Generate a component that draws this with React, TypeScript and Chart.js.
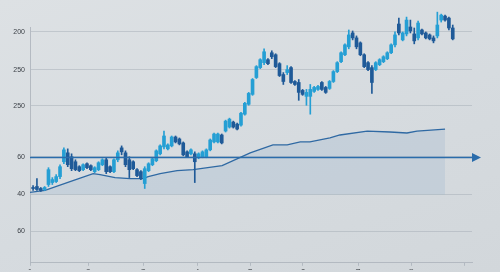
import React, { useEffect, useRef } from "react";
import { Chart, registerables } from "chart.js";

Chart.register(...registerables);

// Candles (price units of the chart's own scale)
const candleOpen = [
  76, 77, 75, 74, 79, 81, 82, 87, 102, 111, 107, 102, 97, 94, 100, 98, 92, 94, 99, 104,
  97, 92, 104, 116, 111, 104, 102, 94, 92, 80, 93, 99, 103, 110, 117, 115, 118, 127, 125, 121,
  112, 110, 110, 106, 107, 107, 114, 122, 122, 129, 133, 137, 142, 140, 139, 150, 160, 170, 187, 197,
  202, 205, 212, 210, 201, 190, 192, 197, 183, 182, 174, 168, 168, 173, 175, 182, 177, 176, 183, 193,
  203, 210, 218, 232, 227, 222, 210, 202, 197, 195, 200, 203, 206, 212, 220, 241, 225, 231, 238, 231,
  227, 235, 232, 230, 227, 229, 245, 249, 247, 237,
];
const candleClose = [
  75, 74, 73, 76, 94, 84, 87, 97, 114, 99, 95, 94, 93, 99, 96, 94, 96, 101, 104, 92,
  92, 104, 111, 112, 99, 94, 95, 88, 85, 95, 100, 105, 113, 118, 128, 119, 127, 122, 120, 109,
  107, 114, 102, 110, 112, 114, 124, 130, 130, 121, 143, 145, 137, 135, 151, 161, 171, 185, 198, 205,
  213, 201, 208, 198, 189, 183, 195, 182, 180, 172, 170, 172, 175, 177, 178, 175, 172, 183, 193, 202,
  212, 220, 230, 227, 218, 210, 198, 195, 182, 202, 205, 208, 212, 220, 230, 232, 232, 245, 234, 224,
  242, 231, 227, 226, 224, 240, 250, 245, 237, 226,
];
const candleHigh = [
  78, 85, 76, 77, 96, 86, 89, 99, 116, 115, 110, 104, 98, 100, 101, 99, 97, 102, 105, 106,
  98, 105, 113, 118, 113, 107, 103, 95, 93, 97, 101, 106, 114, 119, 133, 120, 128, 128, 126, 122,
  113, 115, 112, 111, 113, 115, 125, 131, 131, 130, 144, 146, 143, 141, 152, 162, 172, 186, 199, 206,
  216, 206, 214, 211, 202, 192, 199, 198, 184, 185, 175, 175, 180, 178, 179, 183, 178, 184, 194, 203,
  213, 221, 235, 234, 229, 223, 211, 203, 199, 203, 206, 209, 213, 221, 233, 247, 233, 248, 245, 237,
  244, 236, 233, 231, 229, 253, 251, 250, 248, 240,
];
const candleLow = [
  73, 73, 72, 73, 77, 79, 81, 85, 100, 97, 93, 93, 92, 93, 95, 93, 91, 93, 98, 90,
  91, 91, 102, 109, 97, 86, 94, 87, 84, 75, 92, 98, 102, 109, 115, 114, 117, 121, 119, 108,
  106, 109, 81, 105, 106, 106, 113, 121, 121, 120, 132, 136, 136, 134, 138, 149, 159, 169, 186, 196,
  200, 200, 206, 197, 188, 180, 190, 181, 179, 164, 169, 159, 150, 172, 174, 174, 171, 175, 182, 192,
  202, 209, 216, 225, 216, 209, 197, 194, 171, 194, 199, 202, 205, 211, 218, 230, 224, 229, 232, 221,
  225, 230, 226, 225, 222, 227, 243, 244, 235, 225,
];

// Moving-average line: positions in candle index, values in price units
const maIndex = [-0.8, 3.1, 9.6, 15.6, 17.4, 21.3, 25.2, 28.6, 29.9, 33, 37.4, 41.6, 49.1, 56.4, 62.3, 66, 69.4, 71.9, 77.1, 79.7, 86.8, 92.7, 97.1, 99.7, 107];
const maValue = [71, 73, 82, 90, 89, 86, 85, 85, 87, 90, 93, 94, 98, 111, 119, 119, 122, 122, 126, 129, 133, 132, 131, 133, 135];
const maFloor = 69;

// Horizontal reference arrow level
const arrowLevel = 107;

// Axis ticks
const yTickValues = [32, 69, 107, 158.5, 195, 233];
const yTickLabels = ["60", "40", "60", "250", "250", "200"];
const xTickValues = [-0.8, 14.3, 28.6, 42.6, 56.4, 70.1, 84.4, 98.2, 112];
const xTickLabels = ["1", "2", "3", "4", "5", "6", "7", "8", ""];

const UP = "#259fd4";
const DOWN = "#1f5a98";

const arrowPlugin = {
  id: "arrowLine",
  afterDatasetsDraw(chart: any) {
    const { ctx, chartArea, scales } = chart;
    const py = Math.round(scales.y.getPixelForValue(arrowLevel)) + 0.5;
    ctx.save();
    ctx.strokeStyle = "#2a6cab";
    ctx.fillStyle = "#2a6cab";
    ctx.lineWidth = 1.4;
    ctx.beginPath();
    ctx.moveTo(chartArea.left, py);
    ctx.lineTo(chartArea.right + 2, py);
    ctx.stroke();
    ctx.beginPath();
    ctx.moveTo(chartArea.right, py - 4.5);
    ctx.lineTo(chartArea.right + 9, py);
    ctx.lineTo(chartArea.right, py + 4.5);
    ctx.closePath();
    ctx.fill();
    ctx.restore();
  },
};

export default function App() {
  const ref = useRef<HTMLCanvasElement | null>(null);

  useEffect(() => {
    if (!ref.current) return;
    const n = candleOpen.length;
    const idx = Array.from({ length: n }, (_, i) => i);
    const colors = idx.map((i) => (candleClose[i] >= candleOpen[i] ? UP : DOWN));

    const chart = new Chart(ref.current, {
      type: "bar",
      data: {
        datasets: [
          {
            type: "bar",
            data: idx.map((i) => ({ x: i, y: [candleLow[i], candleHigh[i]] })) as any,
            backgroundColor: colors,
            borderWidth: 0,
            barThickness: 1,
            grouped: false,
            clip: false as any,
            order: 2,
          },
          {
            type: "bar",
            data: idx.map((i) => ({
              x: i,
              y: [Math.min(candleOpen[i], candleClose[i]), Math.max(candleOpen[i], candleClose[i])],
            })) as any,
            backgroundColor: colors,
            borderWidth: 0,
            barThickness: 3,
            grouped: false,
            clip: false as any,
            order: 1,
          },
          {
            type: "line",
            data: maIndex.map((x, i) => ({ x, y: maValue[i] })) as any,
            borderColor: "#2f69a3",
            borderWidth: 1.3,
            pointRadius: 0,
            tension: 0,
            fill: { value: maFloor } as any,
            backgroundColor: "rgba(150,176,205,0.26)",
            order: 3,
          } as any,
        ],
      },
      options: {
        animation: false,
        responsive: false,
        maintainAspectRatio: false,
        layout: { padding: { top: 27, right: 28, left: 0, bottom: 0 } },
        plugins: { legend: { display: false }, tooltip: { enabled: false } },
        scales: {
          x: {
            type: "linear",
            offset: false,
            min: -0.8,
            max: 114,
            afterBuildTicks: (s: any) => {
              s.ticks = xTickValues.map((v) => ({ value: v }));
            },
            afterFit: (s: any) => {
              s.height = 7;
            },
            grid: {
              offset: false,
              drawOnChartArea: false,
              drawTicks: true,
              tickLength: 3,
              color: "rgba(170,178,186,0.8)",
            },
            border: { color: "rgba(175,182,190,0.9)", width: 1 },
            ticks: {
              padding: 1,
              maxRotation: 0,
              autoSkip: false,
              color: "#2c3035",
              font: { family: "Liberation Sans", size: 9 },
              callback: (_v: any, i: number) => xTickLabels[i],
            },
          },
          y: {
            type: "linear",
            min: 0,
            max: 238,
            afterBuildTicks: (s: any) => {
              s.ticks = yTickValues.map((v) => ({ value: v }));
            },
            afterFit: (s: any) => {
              s.width = 30;
            },
            grid: {
              drawTicks: false,
              color: "rgba(160,168,178,0.45)",
              lineWidth: 1,
            },
            border: { color: "rgba(175,182,190,0.9)", width: 1 },
            ticks: {
              padding: 5,
              color: "#3a3f45",
              font: { family: "Liberation Sans", size: 7 },
              callback: (_v: any, i: number) => yTickLabels[i],
            },
          },
        },
      },
      plugins: [arrowPlugin],
    } as any);

    return () => chart.destroy();
  }, []);

  return (
    <div
      style={{
        position: "fixed",
        left: 0,
        top: 0,
        width: 500,
        height: 272,
        background: "linear-gradient(160deg, #dde1e4 0%, #d6dbdf 55%, #d2d7db 100%)",
      }}
    >
      <canvas ref={ref} width={500} height={272} style={{ display: "block", width: 500, height: 272 }} />
    </div>
  );
}
